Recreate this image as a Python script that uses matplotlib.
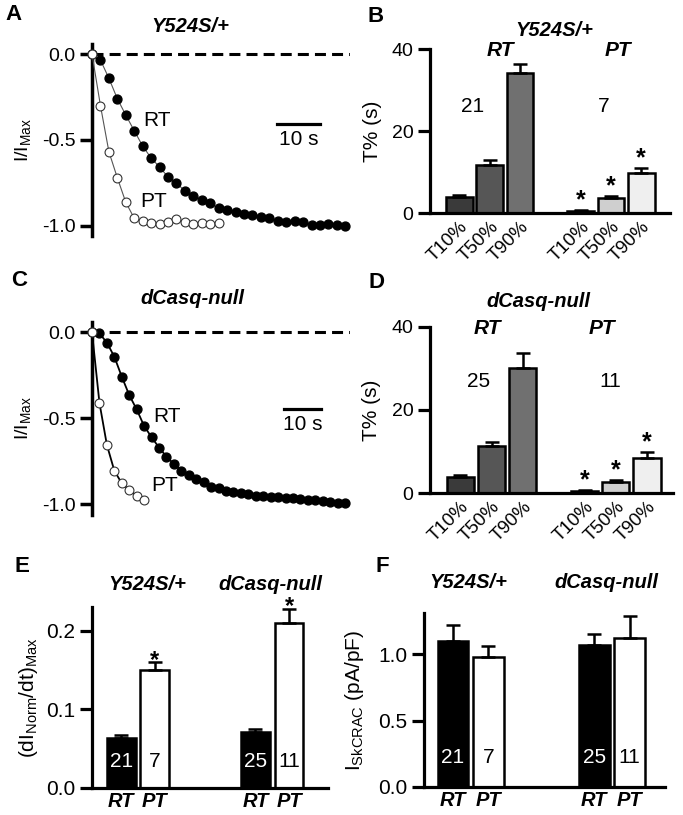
import numpy as np
import matplotlib
matplotlib.use('Agg')
import matplotlib.pyplot as plt
from matplotlib.transforms import ScaledTranslation

plt.rcParams['font.family'] = ['Liberation Sans', 'DejaVu Sans']
plt.rcParams['mathtext.fontset'] = 'custom'
plt.rcParams['mathtext.rm'] = 'Liberation Sans'
plt.rcParams['mathtext.it'] = 'Liberation Sans:italic'
plt.rcParams['mathtext.bf'] = 'Liberation Sans:bold'
plt.rcParams['axes.unicode_minus'] = False

W, H = 683, 815
dt = 2  # s between points

# A: Y524S/+ normalised current decay
a_rt = [0, -0.035, -0.141, -0.26, -0.355, -0.446, -0.535, -0.605, -0.657, -0.715,
        -0.75, -0.797, -0.824, -0.849, -0.868, -0.897, -0.907, -0.92, -0.93, -0.938,
        -0.946, -0.955, -0.969, -0.975, -0.973, -0.975, -0.994, -0.994, -0.99, -0.995, -1.0]
a_pt = [0, -0.30, -0.568, -0.72, -0.862, -0.955, -0.97, -0.98, -0.99, -0.975,
        -0.96, -0.975, -0.99, -0.98, -0.99, -0.98]

# C: dCasq-null
c_rt = [0, -0.006, -0.06, -0.142, -0.258, -0.365, -0.448, -0.545, -0.61, -0.67,
        -0.723, -0.766, -0.805, -0.83, -0.853, -0.872, -0.898, -0.907, -0.921, -0.93,
        -0.936, -0.94, -0.95, -0.952, -0.956, -0.96, -0.963, -0.966, -0.97, -0.973,
        -0.977, -0.98, -0.985, -0.99, -0.995]
c_pt = [0, -0.41, -0.655, -0.805, -0.878, -0.917, -0.952, -0.977]

# B / D: T10, T50, T90 (s)
t_labels = ['T10%', 'T50%', 'T90%']
b_rt, b_rt_err = [3.9, 11.8, 34.1], [0.5, 1.2, 2.3]
b_pt, b_pt_err = [0.65, 3.8, 9.9], [0.2, 0.4, 1.2]
d_rt, d_rt_err = [3.8, 11.3, 30.0], [0.6, 1.1, 3.7]
d_pt, d_pt_err = [0.6, 2.8, 8.5], [0.15, 0.4, 1.3]
b_n = ['21', '7']
d_n = ['25', '11']

# E: (dI/dt)max, F: I SkCRAC  -> [Y524S RT, Y524S PT, dCasq RT, dCasq PT]
groups = ['Y524S/+', 'dCasq-null']
conds = ['RT', 'PT', 'RT', 'PT']
e_val = [0.063, 0.150, 0.071, 0.210]
e_err = [0.004, 0.010, 0.004, 0.018]
f_val = [1.10, 0.98, 1.07, 1.125]
f_err = [0.12, 0.083, 0.083, 0.165]
n_cells = ['21', '7', '25', '11']

fig = plt.figure(figsize=(W / 100, H / 100), dpi=100)


def px_box(l, t, r, b):
    return [l / W, 1 - b / H, (r - l) / W, (b - t) / H]


def ftext(x, y, s, **kw):
    kw.setdefault('ha', 'center')
    kw.setdefault('va', 'center')
    fig.text(x / W, 1 - y / H, s, **kw)


def style_axes(ax, lw=2.3):
    for s in ['top', 'right']:
        ax.spines[s].set_visible(False)
    for s in ['left', 'bottom']:
        ax.spines[s].set_linewidth(lw)
    ax.tick_params(axis='y', length=9, width=lw, labelsize=14, pad=3)
    ax.tick_params(axis='x', length=0)


def trace_panel(box, rt, pt, xmax, lcol, lw, rt_xy, pt_xy, bar, title, title_xy, letter, letter_xy):
    ax = fig.add_axes(px_box(*box))
    t_rt = np.arange(len(rt)) * dt
    t_pt = np.arange(len(pt)) * dt
    ax.axhline(0, color='black', lw=2.2, ls=(0, (3.6, 2)), zorder=1)
    ax.plot(t_rt, rt, '-o', color=lcol, lw=lw, mfc='black', mec='black', ms=6.4,
            clip_on=False, zorder=3)
    ax.plot(t_pt, pt, '-o', color=lcol, lw=lw, mfc='white', mec='#333333', mew=0.8,
            ms=6.4, clip_on=False, zorder=4)
    ax.set_xlim(0, xmax)
    ax.set_ylim(-1.06, 0.06)
    for s in ['top', 'right', 'bottom']:
        ax.spines[s].set_visible(False)
    ax.spines['left'].set_linewidth(2.5)
    ax.set_xticks([])
    ax.set_yticks([0, -0.5, -1.0])
    ax.set_yticklabels(['0.0', '-0.5', '-1.0'])
    ax.tick_params(axis='y', length=9, width=2.5, labelsize=14, pad=3)
    ax.set_ylabel(r'I/I$_{\rm Max}$', fontsize=14)
    ax.yaxis.set_label_coords(-0.23, 0.5)
    ax.text(rt_xy[0], rt_xy[1], 'RT', fontsize=15, ha='center', va='center')
    ax.text(pt_xy[0], pt_xy[1], 'PT', fontsize=15, ha='center', va='center')
    ax.plot([bar[0], bar[0] + 10], [bar[1], bar[1]], color='black', lw=2.3)
    ax.text(bar[0] + 5, bar[1] - 0.09, '10 s', fontsize=15, ha='center', va='center')
    ftext(*title_xy, title, fontsize=14.5, weight='bold', style='italic')
    ftext(*letter_xy, letter, fontsize=16, weight='bold')
    return ax


def t_panel(box, xlim, rt, rt_err, pt, pt_err, ns, n_xy, head_xy, title, title_xy,
            letter, letter_xy):
    ax = fig.add_axes(px_box(*box))
    pos = [0, 1, 2, 4, 5, 6]
    vals = rt + pt
    errs = rt_err + pt_err
    cols = ['#3a3a3a', '#565656', '#707070', '#9a9a9a', '#cfcfcf', '#efefef']
    ax.bar(pos, vals, width=0.88, color=cols, edgecolor='black', linewidth=1.8, zorder=2)
    ax.errorbar(pos, vals, yerr=[np.zeros(6), errs], fmt='none', ecolor='black',
                elinewidth=1.8, capsize=5, capthick=1.8, zorder=3)
    for p, v, e in zip(pos[3:], vals[3:], errs[3:]):
        ax.annotate('*', (p, v + e), xytext=(0, 7), textcoords='offset points',
                    ha='center', va='center', fontsize=18, weight='bold')
    ax.set_xlim(*xlim)
    ax.set_ylim(0, 40)
    ax.set_yticks([0, 20, 40])
    ax.set_xticks(pos)
    ax.set_xticklabels(t_labels * 2, rotation=45, ha='right', rotation_mode='anchor',
                       fontsize=13.5)
    off = ScaledTranslation(10 / 72, 0, fig.dpi_scale_trans)
    for lab in ax.get_xticklabels():
        lab.set_transform(lab.get_transform() + off)
    style_axes(ax)
    ax.set_ylabel('T% (s)', fontsize=15)
    ax.yaxis.set_label_coords(-0.2, 0.5)
    ax.text(n_xy[0][0], n_xy[0][1], ns[0], fontsize=15, ha='center', va='center')
    ax.text(n_xy[1][0], n_xy[1][1], ns[1], fontsize=15, ha='center', va='center')
    ftext(*head_xy[0], 'RT', fontsize=15, weight='bold', style='italic')
    ftext(*head_xy[1], 'PT', fontsize=15, weight='bold', style='italic')
    ftext(*title_xy, title, fontsize=14.5, weight='bold', style='italic')
    ftext(*letter_xy, letter, fontsize=16, weight='bold')
    return ax


def n_panel(box, xlim, ylim, yticks, yticklabels, vals, errs, stars, n_y, ylabel,
            ylab_x, title_xs, title_y, letter, letter_xy):
    ax = fig.add_axes(px_box(*box))
    pos = [0, 1, 4, 5]
    cols = ['black', 'white', 'black', 'white']
    ax.bar(pos, vals, width=0.86, color=cols, edgecolor='black', linewidth=1.8, zorder=2)
    ax.errorbar(pos, vals, yerr=[np.zeros(4), errs], fmt='none', ecolor='black',
                elinewidth=1.8, capsize=5, capthick=1.8, zorder=3)
    for p, v, e, s in zip(pos, vals, errs, stars):
        if s:
            ax.annotate('*', (p, v + e), xytext=(0, 1.5), textcoords='offset points',
                        ha='center', va='center', fontsize=17, weight='bold')
    for p, n, c in zip(pos, n_cells, ['white', 'black', 'white', 'black']):
        ax.text(p, n_y, n, color=c, fontsize=15, ha='center', va='center', zorder=4)
    ax.set_xlim(*xlim)
    ax.set_ylim(*ylim)
    ax.set_yticks(yticks)
    ax.set_yticklabels(yticklabels)
    ax.set_xticks(pos)
    ax.set_xticklabels(conds, fontsize=14.5, weight='bold', style='italic')
    style_axes(ax)
    ax.tick_params(axis='x', pad=3)
    ax.tick_params(axis='y', labelsize=15)
    ax.set_ylabel(ylabel, fontsize=15)
    ax.yaxis.set_label_coords(ylab_x, 0.5)
    for x, g in zip(title_xs, groups):
        ftext(x, title_y, g, fontsize=14.5, weight='bold', style='italic')
    ftext(*letter_xy, letter, fontsize=16, weight='bold')
    return ax


# A
trace_panel((92, 43.7, 350, 236.3), a_rt, a_pt, 61.1, '#555555', 0.8,
            (15.4, -0.384), (14.6, -0.855), (43.9, -0.407),
            'Y524S/+', (190, 27), 'A', (14, 15))
# C
trace_panel((92, 322, 350, 514.6), c_rt, c_pt, 69.3, 'black', 1.3,
            (20.2, -0.487), (19.6, -0.893), (51.5, -0.448),
            'dCasq-null', (192, 299), 'C', (19, 281))
# B
t_panel((430, 49.3, 670, 213.3), (-0.97, 6.95), b_rt, b_rt_err, b_pt, b_pt_err,
        b_n, [(0.45, 26), (4.75, 26)], [(500.7, 50), (618, 50)],
        'Y524S/+', (554, 31), 'B', (376, 16))
# D
t_panel((430, 326.7, 673, 493.3), (-0.98, 6.84), d_rt, d_rt_err, d_pt, d_pt_err,
        d_n, [(0.57, 26.8), (4.82, 26.8)], [(487.5, 328), (602.3, 328)],
        'dCasq-null', (538, 301.5), 'D', (376, 283))
# E
n_panel((91.7, 606.7, 328.3, 787.7), (-0.88, 6.17), (0, 0.231), [0, 0.1, 0.2],
        ['0.0', '0.1', '0.2'], e_val, e_err, [False, True, False, True], 0.033,
        r'(dI$_{\rm Norm}$/dt)$_{\rm Max}$', -0.22, (147, 270), 584, 'E', (22, 567))
# F
n_panel((424, 613.3, 665, 786.7), (-0.82, 6.0), (0, 1.31), [0, 0.5, 1.0],
        ['0.0', '0.5', '1.0'], f_val, f_err, [False] * 4, 0.222,
        r'I$_{\rm SkCRAC}$ (pA/pF)', -0.24, (468, 606), 583, 'F', (382, 567))

fig.savefig('out.png', dpi=100, facecolor='white')
